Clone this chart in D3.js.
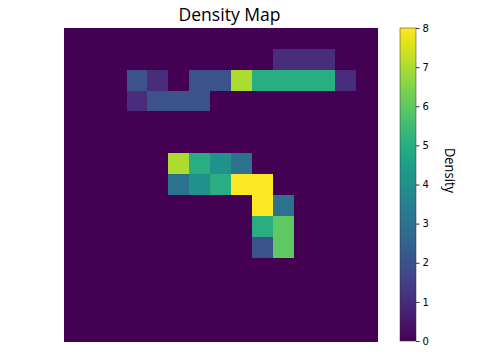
<!DOCTYPE html>
<html>
<head>
<meta charset="utf-8">
<script src="https://cdn.jsdelivr.net/npm/d3@7"></script>
<style>
  html, body { margin: 0; padding: 0; background: #fff; }
  svg { display: block; }
</style>
</head>
<body>
<svg id="chart" width="480" height="360"></svg>
<script>
// ---- data ----
const colIndex = d3.range(15);
const rowIndex = d3.range(15);
const density = [
  [0,0,0,0,0,0,0,0,0,0,0,0,0,0,0],
  [0,0,0,0,0,0,0,0,0,0,1,1,1,0,0],
  [0,0,0,2,1,0,2,2,7,5,5,5,5,1,0],
  [0,0,0,1,2,2,2,0,0,0,0,0,0,0,0],
  [0,0,0,0,0,0,0,0,0,0,0,0,0,0,0],
  [0,0,0,0,0,0,0,0,0,0,0,0,0,0,0],
  [0,0,0,0,0,7,5,4,3,0,0,0,0,0,0],
  [0,0,0,0,0,3,4,5,8,8,0,0,0,0,0],
  [0,0,0,0,0,0,0,0,0,8,3,0,0,0,0],
  [0,0,0,0,0,0,0,0,0,5,6,0,0,0,0],
  [0,0,0,0,0,0,0,0,0,2,6,0,0,0,0],
  [0,0,0,0,0,0,0,0,0,0,0,0,0,0,0],
  [0,0,0,0,0,0,0,0,0,0,0,0,0,0,0],
  [0,0,0,0,0,0,0,0,0,0,0,0,0,0,0],
  [0,0,0,0,0,0,0,0,0,0,0,0,0,0,0]
];
const colorTicks = [0,1,2,3,4,5,6,7,8];
const titleText = "Density Map";
const colorLabel = "Density";

// ---- drawing ----
const svg = d3.select("#chart");
const x = d3.scaleBand().domain(colIndex).range([64, 377]).padding(0);
const y = d3.scaleBand().domain(rowIndex).range([28, 341]).padding(0);
const color = d3.scaleSequential(d3.interpolateViridis).domain([0, 8]);

const cells = [];
density.forEach((row, r) => row.forEach((v, c) => cells.push({r, c, v})));

svg.append("g").selectAll("rect").data(cells).join("rect")
  .attr("x", d => x(d.c))
  .attr("y", d => y(d.r))
  .attr("width", x.bandwidth() + 0.5)
  .attr("height", y.bandwidth() + 0.5)
  .attr("fill", d => color(d.v))
  .attr("shape-rendering", "crispEdges");

svg.append("text")
  .attr("x", 229.5).attr("y", 20.5)
  .attr("text-anchor", "middle")
  .attr("font-family", "'Open Sans', 'Noto Sans', sans-serif")
  .attr("font-size", 18)
  .attr("textLength", 102).attr("lengthAdjust", "spacingAndGlyphs")
  .attr("fill", "#000")
  .text(titleText);

// colorbar
const cbX = 400, cbW = 16;
const cbScale = d3.scaleLinear().domain([0, 8]).range([341, 28]);
const defs = svg.append("defs");
const grad = defs.append("linearGradient").attr("id", "cbgrad")
  .attr("x1", "0").attr("y1", "1").attr("x2", "0").attr("y2", "0");
d3.range(0, 1.0001, 0.05).forEach(t => {
  grad.append("stop").attr("offset", t).attr("stop-color", d3.interpolateViridis(t));
});
svg.append("rect")
  .attr("x", cbX).attr("y", cbScale(8))
  .attr("width", cbW).attr("height", cbScale(0) - cbScale(8))
  .attr("fill", "url(#cbgrad)")
  .attr("stroke", "#333").attr("stroke-width", 0.5);

const axis = d3.axisRight(cbScale).tickValues(colorTicks).tickSize(3.5).tickPadding(3).tickFormat(d3.format("d"));
const ag = svg.append("g").attr("transform", `translate(${cbX + cbW},0)`).call(axis);
ag.select(".domain").remove();
ag.selectAll("text").attr("font-family", "'DejaVu Sans', sans-serif").attr("font-size", 10).attr("fill", "#000");
ag.selectAll("line").attr("stroke", "#000").attr("stroke-width", 0.8);

svg.append("text")
  .attr("transform", "translate(445,170.5) rotate(90)")
  .attr("text-anchor", "middle")
  .attr("font-family", "'Open Sans', 'Noto Sans', sans-serif")
  .attr("font-size", 15)
  .attr("textLength", 45).attr("lengthAdjust", "spacingAndGlyphs")
  .attr("fill", "#000")
  .text(colorLabel);
</script>
</body>
</html>
